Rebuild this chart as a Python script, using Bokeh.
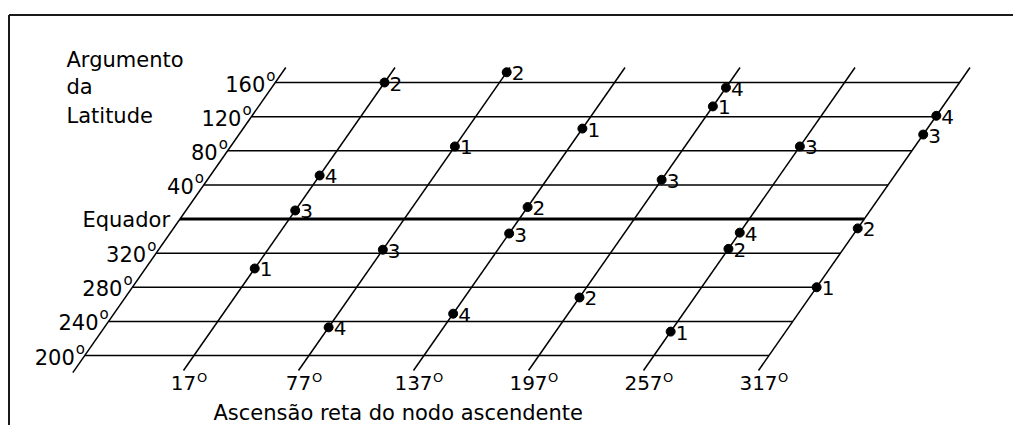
from bokeh.plotting import figure
from bokeh.models import ColumnDataSource, Label, Range1d
from bokeh.core.properties import value
from bokeh.embed import file_html
from bokeh.resources import INLINE

# ---------------- data ----------------
raan_lines = [17, 77, 137, 197, 257, 317]
raan_tick_labels = ["17", "77", "137", "197", "257", "317"]

lat_levels = [200, 240, 280, 320, 0, 40, 80, 120, 160]
lat_tick_labels = ["200", "240", "280", "320", "Equador", "40", "80", "120", "160"]

pt_raan = [17, 17, 17, 17,
           77, 77, 77, 77,
           137, 137, 137, 137,
           197, 197, 197, 197,
           257, 257, 257, 257,
           317, 317, 317, 317]
pt_lat = [302, 160, 10, 51,
          85, 172, 324, 233,
          106, 14, 343, 249,
          132, 268, 46, 154,
          228, 325, 85, 344,
          280, 349, 99, 121]
pt_label = ["1", "2", "3", "4"] * 6

# ---------------- projection (skewed grid) ----------------
LAT0 = 200.0          # lowest latitude level drawn (bottom of the grid)
SKEW = 0.3107         # RAAN shift per degree of latitude (oblique grid)
AXIS_RAAN = -40.0     # position of the latitude axis line
EXT = 17.6            # how far the oblique lines overshoot the grid


def unwrap(lat):
    return lat + 360 if lat < LAT0 else lat


def proj(raan, lat_u):
    return raan + SKEW * (lat_u - LAT0)


lat_u_levels = [unwrap(l) for l in lat_levels]
lat_top = max(lat_u_levels)
lat_bot = min(lat_u_levels)
last_raan = raan_lines[-1]

FONT = "DejaVu Sans"

W, H = 1013, 425
p = figure(width=W, height=H, output_backend="svg", toolbar_location=None,
           x_axis_type=None, y_axis_type=None,
           x_range=Range1d(-83.95, 444.57), y_range=Range1d(117.95, 616.13),
           min_border=0, outline_line_color=None,
           background_fill_color="white", border_fill_color="white")
p.grid.visible = False

# frame border (top and left)
xr0, xr1 = p.x_range.start, p.x_range.end
yr0, yr1 = p.y_range.start, p.y_range.end
px_x = (xr1 - xr0) / W
px_y = (yr1 - yr0) / H
bx = xr0 + 8.5 * px_x
by = yr1 - 14.5 * px_y
p.segment(x0=[bx, bx], y0=[by, by], x1=[xr1, bx], y1=[by, yr0],
          line_color="#1a1a1a", line_width=2)

# horizontal latitude lines
h_xs, h_ys, h_w = [], [], []
for lab, lu in zip(lat_tick_labels, lat_u_levels):
    h_xs.append([proj(AXIS_RAAN, lu), proj(last_raan, lu)])
    h_ys.append([lu, lu])
    h_w.append(3.2 if lab == "Equador" else 1.5)
p.multi_line(xs="xs", ys="ys", line_width="w", line_color="black",
             source=ColumnDataSource(dict(xs=h_xs, ys=h_ys, w=h_w)))

# oblique RAAN lines + latitude axis line
o_xs, o_ys = [], []
for r in raan_lines:
    o_xs.append([proj(r, lat_bot - EXT), proj(r, lat_top + EXT)])
    o_ys.append([lat_bot - EXT, lat_top + EXT])
o_xs.append([proj(AXIS_RAAN, lat_bot - EXT - 2.4), proj(AXIS_RAAN, lat_top + EXT)])
o_ys.append([lat_bot - EXT - 2.4, lat_top + EXT])
p.multi_line(xs=o_xs, ys=o_ys, line_color="black", line_width=1.5)

# latitude tick labels
lt_x = [proj(AXIS_RAAN, lu) for lu in lat_u_levels]
p.text(x=lt_x, y=lat_u_levels, text=lat_tick_labels, x_offset=-10, y_offset=1,
       text_align="right", text_baseline="middle",
       text_font=value(FONT), text_font_size="21px", text_color="black")
deg_idx = [i for i, t in enumerate(lat_tick_labels) if t.isdigit()]
p.text(x=[lt_x[i] for i in deg_idx], y=[lat_u_levels[i] for i in deg_idx],
       text=["o"] * len(deg_idx), x_offset=-9, y_offset=-7,
       text_align="left", text_baseline="middle",
       text_font=value(FONT), text_font_size="15px", text_color="black")

# RAAN tick labels
rt_x = [proj(r, lat_bot - EXT) for r in raan_lines]
rt_y = [lat_bot - EXT] * len(raan_lines)
p.text(x=rt_x, y=rt_y, text=raan_tick_labels, x_offset=0, y_offset=12,
       text_align="center", text_baseline="middle",
       text_font=value(FONT), text_font_size="20px", text_color="black")
o_off = [len(t) * 6.2 + 1 for t in raan_tick_labels]
p.text(x=rt_x, y=rt_y, text=["O"] * len(raan_lines), x_offset=o_off, y_offset=7,
       text_align="left", text_baseline="middle",
       text_font=value(FONT), text_font_size="13px", text_color="black")

# satellite points
px_ = [proj(r, unwrap(l)) for r, l in zip(pt_raan, pt_lat)]
py_ = [unwrap(l) for l in pt_lat]
src = ColumnDataSource(dict(x=px_, y=py_, t=pt_label))
p.scatter(x="x", y="y", source=src, size=9, color="black")
p.text(x="x", y="y", text="t", source=src, x_offset=5, y_offset=1,
       text_align="left", text_baseline="middle",
       text_font=value(FONT), text_font_size="20px", text_color="black")

# axis titles
for txt, sy in [("Argumento", 366), ("da", 339), ("Latitude", 310)]:
    p.add_layout(Label(x=66, y=sy, x_units="screen", y_units="screen", text=txt,
                       text_font=FONT, text_font_size="21px", text_color="black",
                       text_align="left", text_baseline="middle"))
p.add_layout(Label(x=213, y=13, x_units="screen", y_units="screen",
                   text="Ascensão reta do nodo ascendente",
                   text_font=FONT, text_font_size="21px", text_color="black",
                   text_align="left", text_baseline="middle"))

open("out.html", "w").write(file_html(p, INLINE))
